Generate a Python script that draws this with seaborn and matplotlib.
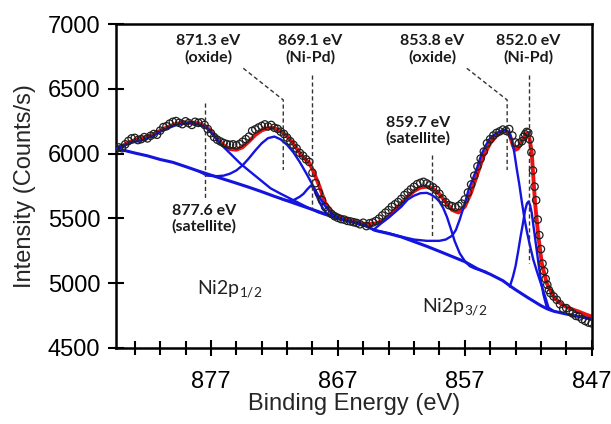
import matplotlib
matplotlib.use("Agg")
import matplotlib.pyplot as plt
import seaborn as sns
from matplotlib.ticker import FixedLocator

# ---------------- data ----------------
# measured points (binding energy in eV, intensity in counts/s)
data_energy = [884.5, 884.25, 884.0, 883.75, 883.5, 883.25, 883.0, 882.75, 882.5, 882.25,
               882.0, 881.75, 881.5, 881.25, 881.0, 880.75, 880.5, 880.25, 880.0, 879.75,
               879.5, 879.25, 879.0, 878.75, 878.5, 878.25, 878.0, 877.75, 877.5, 877.25,
               877.0, 876.75, 876.5, 876.25, 876.0, 875.75, 875.5, 875.25, 875.0, 874.75,
               874.5, 874.25, 874.0, 873.75, 873.5, 873.25, 873.0, 872.75, 872.5, 872.25,
               872.0, 871.75, 871.5, 871.25, 871.0, 870.75, 870.5, 870.25, 870.0, 869.75,
               869.5, 869.25, 869.0, 868.75, 868.5, 868.25, 868.0, 867.75, 867.5, 867.25,
               867.0, 866.75, 866.5, 866.25, 866.0, 865.75, 865.5, 865.25, 865.0, 864.75,
               864.5, 864.25, 864.0, 863.75, 863.5, 863.25, 863.0, 862.75, 862.5, 862.25,
               862.0, 861.75, 861.5, 861.25, 861.0, 860.75, 860.5, 860.25, 860.0, 859.75,
               859.5, 859.25, 859.0, 858.75, 858.5, 858.25, 858.0, 857.75, 857.5, 857.25,
               857.0, 856.75, 856.5, 856.25, 856.0, 855.75, 855.5, 855.25, 855.0, 854.75,
               854.5, 854.25, 854.0, 853.75, 853.5, 853.25, 853.0, 852.75, 852.5, 852.375,
               852.25, 852.125, 852.0, 851.875, 851.75, 851.625, 851.5, 851.375, 851.25, 851.125,
               851.0, 850.875, 850.75, 850.625, 850.5, 850.375, 850.25, 850.0, 849.75, 849.5,
               849.25, 849.0, 848.75, 848.5, 848.25, 848.0, 847.75, 847.5, 847.25, 847.0]
data_counts = [6035, 6048, 6042, 6072, 6098, 6118, 6122, 6105, 6112, 6128,
               6118, 6138, 6152, 6146, 6178, 6205, 6212, 6232, 6246, 6252,
               6238, 6228, 6250, 6236, 6222, 6246, 6238, 6242, 6222, 6190,
               6158, 6128, 6108, 6094, 6082, 6074, 6068, 6072, 6064, 6074,
               6092, 6112, 6132, 6176, 6188, 6202, 6214, 6226, 6210, 6222,
               6200, 6192, 6170, 6152, 6124, 6096, 6068, 6040, 6006, 5984,
               5956, 5936, 5852, 5772, 5698, 5640, 5588, 5560, 5534, 5516,
               5504, 5494, 5490, 5480, 5476, 5470, 5464, 5454, 5466, 5440,
               5462, 5468, 5480, 5498, 5522, 5544, 5564, 5590, 5608, 5626,
               5650, 5680, 5700, 5724, 5744, 5764, 5774, 5782, 5770, 5756,
               5740, 5720, 5690, 5652, 5624, 5602, 5594, 5586, 5596, 5614,
               5646, 5700, 5762, 5830, 5902, 5962, 6016, 6080, 6112, 6140,
               6160, 6172, 6186, 6176, 6190, 6140, 6086, 6078, 6096, 6130,
               6150, 6168, 6162, 6110, 6010, 5870, 5745, 5640, 5490, 5370,
               5262, 5150, 5092, 5032, 4986, 4946, 4922, 4896, 4870, 4836,
               4802, 4806, 4784, 4764, 4746, 4740, 4720, 4706, 4694, 4688]

# total fit envelope (red)
fit_energy = [884.5, 884, 883.5, 883, 882.5, 882, 881.5, 881, 880.5, 880, 879.5, 879, 878.5,
              878, 877.5, 877, 876.5, 876, 875.5, 875, 874.5, 874, 873.5, 873, 872.5, 872,
              871.5, 871, 870.5, 870, 869.5, 869.25, 869, 868.5, 868, 867.5, 867, 866.5,
              866, 865.5, 865, 864.5, 864, 863.5, 863, 862.5, 862, 861.5, 861, 860.5, 860,
              859.5, 859, 858.5, 858, 857.5, 857, 856.5, 856, 855.5, 855, 854.5, 854, 853.5,
              853.2, 853, 852.8, 852.5, 852.2, 852, 851.85, 851.72, 851.6, 851.46, 851.2,
              850.93, 850.54, 850, 849.5, 849, 848.5, 848, 847.5, 847]
fit_counts = [6041, 6058, 6085, 6105, 6118, 6130, 6150, 6177, 6202, 6222, 6235, 6240, 6240,
              6234, 6215, 6175, 6115, 6065, 6035, 6030, 6050, 6095, 6145, 6180, 6198, 6198,
              6175, 6135, 6075, 6005, 5950, 5928, 5880, 5760, 5620, 5552, 5515, 5495,
              5480, 5468, 5458, 5455, 5460, 5480, 5515, 5565, 5615, 5668, 5710, 5738, 5745,
              5728, 5688, 5625, 5565, 5545, 5590, 5700, 5845, 5985, 6080, 6140, 6178, 6160,
              6060, 6030, 6040, 6090, 6150, 6160, 6090, 6003, 5822, 5616, 5358,
              5152, 4998, 4894, 4845, 4815, 4795, 4778, 4758, 4740]

# background (blue)
bg_energy = [884.5, 883, 882, 881, 880, 879, 878, 877, 876, 875, 874, 873, 872, 871, 870,
             869, 868, 867, 866, 865, 864, 863, 862, 861, 860, 859, 858, 857, 856, 855, 854,
             853.4, 853, 852, 851, 850.5, 850, 849, 848, 847]
bg_counts = [6041, 6005, 5983, 5955, 5933, 5900, 5866, 5834, 5803, 5772, 5740, 5706, 5670,
             5636, 5602, 5568, 5534, 5500, 5474, 5449, 5405, 5382, 5356, 5320, 5284, 5245,
             5205, 5165, 5110, 5068, 5018, 4975, 4948, 4885, 4825, 4800, 4782, 4760, 4740,
             4722]

# satellite 877.6 eV component
sat1_energy = [884.5, 884, 883.4, 882.8, 882.3, 881.5, 881, 880.3, 879.7, 879.2, 878.9, 878.5,
               878.1, 877.7, 877.3, 876.8, 876.3, 875.5, 874.7, 873.9, 873.1, 872.3, 871.5,
               870.5, 869.5, 868.5, 867.5, 867]
sat1_counts = [6041, 6055, 6080, 6095, 6106, 6140, 6170, 6200, 6222, 6232, 6235, 6234,
               6229, 6215, 6196, 6144, 6080, 6003, 5925, 5860, 5796, 5732, 5690,
               5640, 5590, 5545, 5512, 5500]

# oxide 871.3 eV component
ox1_energy = [878, 877.3, 876.5, 876, 875.5, 875, 874.5, 874, 873.5, 873, 872.5, 872, 871.5,
              871, 870.5, 870, 869.5, 869, 868.5, 868, 867.5, 867, 866.5]
ox1_counts = [5866, 5830, 5826, 5830, 5845, 5870, 5910, 5965, 6025, 6080, 6120, 6132, 6110,
              6068, 6010, 5935, 5850, 5760, 5670, 5595, 5538, 5505, 5488]

# Ni-Pd 869.1 eV component
nipd1_energy = [871.5, 871, 870.5, 870, 869.7, 869.4, 869.1, 868.9, 868.7, 868.4, 868.1,
                867.8, 867.4, 867]
nipd1_counts = [5652, 5636, 5640, 5667, 5690, 5725, 5755, 5730, 5680, 5616, 5565,
                5530, 5508, 5500]

# satellite 859.7 eV component
sat2_energy = [864.2, 863.6, 863, 862.6, 862, 861.5, 861, 860.5, 860, 859.7, 859.3, 859,
               858.7, 858.4, 858.1, 857.8, 857.4, 857, 856.6, 856.2, 855.8, 855.3]
sat2_counts = [5410, 5460, 5505, 5539, 5590, 5645, 5675, 5694, 5697, 5686, 5660, 5630,
               5580, 5510, 5420, 5325, 5230, 5170, 5130, 5112, 5100, 5085]

# oxide 853.8 eV component
ox2_energy = [864.2, 863, 862, 861, 860, 859, 858.5, 858, 857.7, 857.4, 857, 856.7, 856.4,
              856, 855.7, 855.4, 855, 854.5, 854, 853.8, 853.5, 853.3, 853.1, 852.9, 852.7,
              852.5, 852.3, 852.1, 851.9, 851.6, 851.3, 851, 850.7, 850.4, 850.1]
ox2_counts = [5410, 5385, 5358, 5336, 5326, 5326, 5336, 5365, 5410, 5490, 5615, 5720, 5795,
              5900, 5990, 6055, 6120, 6160, 6180, 6185, 6165, 6110, 6010, 5880, 5760,
              5625, 5500, 5395, 5305, 5180, 5085, 4995, 4905, 4810, 4790]

# Ni-Pd 852.0 eV component
nipd2_energy = [853.45, 853.2, 853, 852.8, 852.6, 852.4, 852.25, 852.1, 851.98, 851.85,
                851.72, 851.6, 851.45, 851.3, 851.15, 851, 850.8, 850.55, 850.3]
nipd2_counts = [4972, 5050, 5130, 5240, 5360, 5470, 5560, 5615, 5630, 5600,
                5540, 5450, 5340, 5230, 5120, 5020, 4910, 4817, 4792]

peak_labels = ["877.6 eV\n(satellite)", "871.3 eV\n(oxide)", "869.1 eV\n(Ni-Pd)",
               "859.7 eV\n(satellite)", "853.8 eV\n(oxide)", "852.0 eV\n(Ni-Pd)"]
x_ticks = [877, 867, 857, 847]
y_ticks = [4500, 5000, 5500, 6000, 6500, 7000]

# ---------------- drawing ----------------
sns.set_style("ticks")
plt.rcParams["font.family"] = ["Liberation Sans", "DejaVu Sans"]
plt.rcParams["mathtext.fontset"] = "custom"

BLUE = "#1414e0"
RED = "#ee1111"

fig = plt.figure(figsize=(6.11, 4.24), dpi=100)
ax = fig.add_axes([0.1894, 0.1800, 0.7790, 0.7627])

sns.lineplot(x=fit_energy, y=fit_counts, ax=ax, color=RED, lw=2.8, estimator=None, zorder=2)
sns.lineplot(x=bg_energy, y=bg_counts, ax=ax, color=BLUE, lw=2.2, estimator=None, zorder=3)
for e, c in [(sat1_energy, sat1_counts), (ox1_energy, ox1_counts), (nipd1_energy, nipd1_counts),
             (sat2_energy, sat2_counts), (ox2_energy, ox2_counts), (nipd2_energy, nipd2_counts)]:
    sns.lineplot(x=e, y=c, ax=ax, color=BLUE, lw=1.7, estimator=None, zorder=3)
sns.scatterplot(x=data_energy, y=data_counts, ax=ax, marker="o", s=28,
                facecolor="none", edgecolor="#1f1f1f", linewidth=0.9, zorder=4)

ax.set_xlim(884.5, 847)
ax.set_ylim(4500, 7000)
ax.xaxis.set_major_locator(FixedLocator(x_ticks))
ax.xaxis.set_minor_locator(FixedLocator(list(range(883, 846, -2))))
ax.yaxis.set_major_locator(FixedLocator(y_ticks))
ax.tick_params(axis="both", which="major", direction="inout", length=12, width=1.5,
               colors="black", labelsize=17)
ax.tick_params(axis="x", which="minor", direction="inout", length=10, width=1.5, color="black")
ax.tick_params(axis="x", which="major", pad=11)
ax.tick_params(axis="y", which="major", pad=5)
for sp in ax.spines.values():
    sp.set_visible(True)
    sp.set_color("black")
    sp.set_linewidth(1.8)

ax.set_xlabel("Binding Energy (eV)", fontsize=17)
ax.set_ylabel("Intensity (Counts/s)", fontsize=17)
ax.xaxis.set_label_coords(0.5, -0.14)
ax.yaxis.set_label_coords(-0.168, 0.5)

# dashed guide lines for the peak labels
dash = dict(color="#333333", lw=1.0, ls=(0, (3, 2)), zorder=5)
ax.plot([877.5, 877.5], [6392, 5642], **dash)
ax.plot([874.45, 871.3, 871.3], [6660, 6415, 5874], **dash)
ax.plot([869.05, 869.05], [6608, 5578], **dash)
ax.plot([859.6, 859.6], [5990, 5358], **dash)
ax.plot([856.84, 853.66, 853.66], [6660, 6415, 5874], **dash)
ax.plot([851.9, 851.9], [6608, 5155], **dash)

lab = dict(fontsize=11.5, fontweight="bold", family=["Lato", "DejaVu Sans"], color="#1a1a1a",
           ha="center", va="center", linespacing=1.15, zorder=6)
label_pos = [(877.53, 5495), (877.2, 6809), (869.19, 6809), (860.68, 6177), (859.54, 6809),
             (851.99, 6809)]
for txt, (xx, yy) in zip(peak_labels, label_pos):
    ax.text(xx, yy, txt, **lab)

ni = dict(fontsize=14, family=["Lato", "DejaVu Sans"], color="#222222", ha="left",
          va="baseline")
ax.text(878.1, 4911, r"Ni2p$_{\mathregular{1/2}}$", **ni)
ax.text(860.39, 4775, r"Ni2p$_{\mathregular{3/2}}$", **ni)

fig.savefig("out.png", dpi=100)
